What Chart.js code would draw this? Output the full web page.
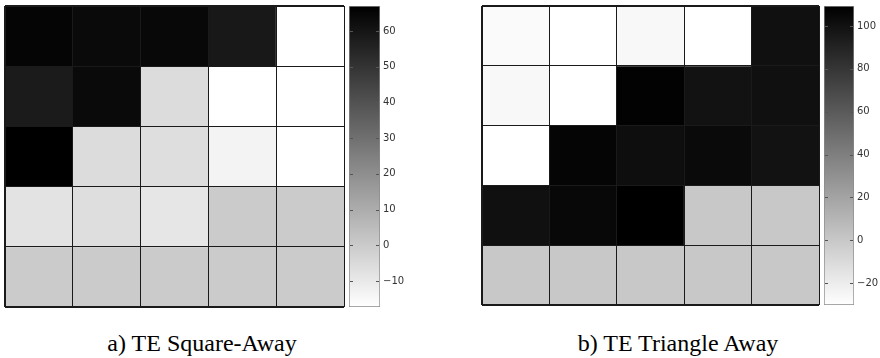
<!DOCTYPE html>
<html><head><meta charset="utf-8">
<script src="https://cdn.jsdelivr.net/npm/chart.js@4.4.0/dist/chart.umd.min.js"></script>
<style>
html,body{margin:0;padding:0;background:#fff;width:880px;height:358px;overflow:hidden;position:relative}
canvas{position:absolute}
.cap{position:absolute;font-family:"Liberation Serif","Tinos","DejaVu Serif","Times New Roman",Times,serif;font-size:24px;line-height:24px;white-space:nowrap;color:#000;transform:translateX(-50%)}
</style></head><body>
<canvas id="hmA" width="345" height="307" style="left:2px;top:3px"></canvas>
<canvas id="cbA" width="62" height="321" style="left:348px;top:-4px"></canvas>
<canvas id="hmB" width="343" height="305" style="left:479px;top:3px"></canvas>
<canvas id="cbB" width="57" height="319" style="left:823px;top:-4px"></canvas>
<div class="cap" style="left:202px;top:331px">a) TE Square-Away</div>
<div class="cap" style="left:678px;top:331px">b) TE Triangle Away</div>
<script>
// ---- data ----
const columns = ['1', '2', '3', '4', '5'];
// rows listed top to bottom
const squareAwayValues = [
  [65.3, 63.7, 64.4, 59.1, -17.3],
  [58.1, 63.7, -5.7, -17.3, -17.3],
  [67.0, -5.7, -6.4, -13.3, -17.3],
  [-8.0, -6.4, -9.0, 0, 0],
  [0, 0, 0, 0, 0]
];
const triangleAwayValues = [
  [-27.5, -30.2, -26.4, -30.2, 100.5],
  [-26.4, -30.2, 108.2, 99.4, 100.5],
  [-30.2, 106.5, 101.6, 103.8, 99.4],
  [100.5, 105.0, 109.3, 0, 0],
  [0, 0, 0, 0, 0]
];
const squareAwayRange = [-17.3, 67.0];
const triangleAwayRange = [-30.2, 109.3];
const squareAwayTicks = [-10, 0, 10, 20, 30, 40, 50, 60];
const triangleAwayTicks = [-20, 0, 20, 40, 60, 80, 100];

function grayOf(v, lo, hi) {
  let t = (v - lo) / (hi - lo);
  t = Math.max(0, Math.min(1, t));
  const g = Math.round(255 * (1 - t));
  return 'rgb(' + g + ',' + g + ',' + g + ')';
}

function heatmap(id, values, range) {
  const n = values.length;
  const datasets = values.map((row, r) => ({
    data: row.map(() => [r, r + 1]),
    backgroundColor: row.map(v => grayOf(v, range[0], range[1])),
    borderWidth: 0,
    barPercentage: 1,
    categoryPercentage: 1,
    grouped: false
  }));
  const lw = (c, last) => (c.index === 0 || c.index === last) ? 2 : 1;
  new Chart(document.getElementById(id), {
    type: 'bar',
    data: { labels: columns, datasets: datasets },
    options: {
      responsive: false, animation: false,
      layout: { padding: 3 },
      plugins: { legend: { display: false }, tooltip: { enabled: false } },
      scales: {
        x: {
          ticks: { display: false },
          grid: { z: 1, offset: true, drawTicks: false, color: '#1a1a1a', lineWidth: c => lw(c, columns.length) },
          border: { display: false }
        },
        y: {
          min: 0, max: n, reverse: true,
          ticks: { display: false, stepSize: 1 },
          grid: { z: 1, drawTicks: false, color: '#1a1a1a', lineWidth: c => lw(c, n) },
          border: { display: false }
        }
      }
    }
  });
}

const tickMarks = {
  id: 'tickMarks',
  afterDatasetsDraw(chart) {
    const s = chart.scales.y, ca = chart.chartArea, ctx = chart.ctx;
    ctx.save();
    ctx.strokeStyle = '#555';
    ctx.lineWidth = 1;
    s.ticks.forEach(t => {
      const y = Math.round(s.getPixelForValue(t.value)) + 0.5;
      ctx.beginPath();
      ctx.moveTo(ca.left + 1, y); ctx.lineTo(ca.left + 4, y);
      ctx.moveTo(ca.right - 4, y); ctx.lineTo(ca.right - 1, y);
      ctx.stroke();
    });
    ctx.restore();
  }
};

function colorbar(id, range, tickVals, axisW) {
  new Chart(document.getElementById(id), {
    type: 'bar',
    data: {
      labels: ['c'],
      datasets: [{
        data: [[range[0], range[1]]],
        backgroundColor: c => {
          const ca = c.chart.chartArea;
          if (!ca) return '#888';
          const g = c.chart.ctx.createLinearGradient(0, ca.bottom, 0, ca.top);
          g.addColorStop(0, '#ffffff');
          g.addColorStop(1, '#000000');
          return g;
        },
        borderColor: '#8a8a8a', borderWidth: 1, borderSkipped: false,
        barPercentage: 1, categoryPercentage: 1
      }]
    },
    options: {
      responsive: false, animation: false,
      layout: { padding: { top: 10, bottom: 10, left: 1, right: 0 } },
      plugins: { legend: { display: false }, tooltip: { enabled: false } },
      scales: {
        x: { display: false },
        y: {
          position: 'right', min: range[0], max: range[1],
          afterBuildTicks: s => { s.ticks = tickVals.map(v => ({ value: v })); },
          afterFit: s => { s.width = axisW; },
          ticks: { padding: 3, color: '#333', font: { family: 'DejaVu Sans', size: 10 },
                   callback: v => String(v).replace('-', '\u2212') },
          grid: { display: false, drawTicks: false },
          border: { display: false }
        }
      }
    },
    plugins: [tickMarks]
  });
}

heatmap('hmA', squareAwayValues, squareAwayRange);
colorbar('cbA', squareAwayRange, squareAwayTicks, 30);
heatmap('hmB', triangleAwayValues, triangleAwayRange);
colorbar('cbB', triangleAwayRange, triangleAwayTicks, 26);
</script>
</body></html>
